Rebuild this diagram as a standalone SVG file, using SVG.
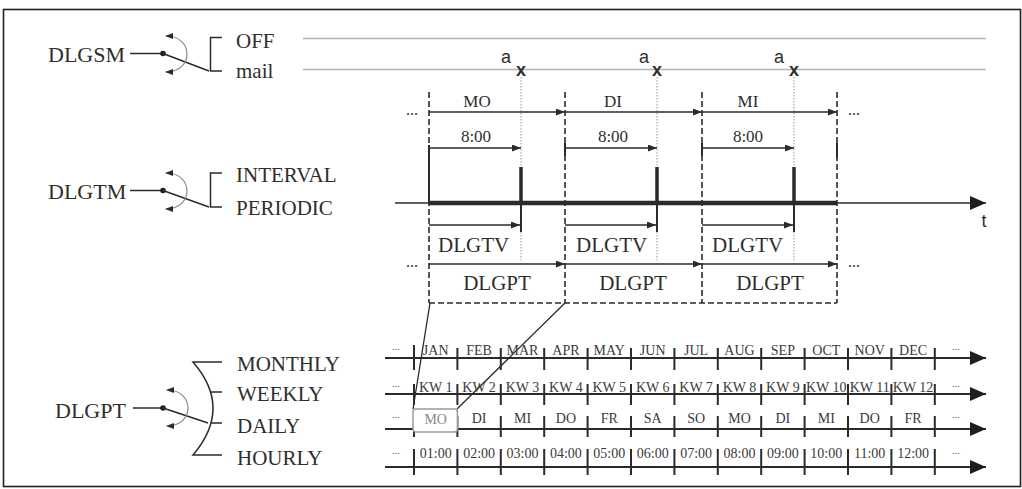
<svg xmlns="http://www.w3.org/2000/svg" width="1022" height="489" viewBox="0 0 1022 489">
<style>
.t{font-family:"Liberation Serif","Times New Roman",serif;fill:#2e2e2e}
.s{font-family:"Liberation Sans",Arial,sans-serif;fill:#2e2e2e}
.big{font-size:22px}
.opt{font-size:21px}
.mid{font-size:17px}
.lab{font-size:21px}
.sm{font-size:14px;fill:#3a3a3a}
.dots{font-size:11px;fill:#666}
.ln{stroke:#2b2b2b;stroke-width:1.5;fill:none}
.thin{stroke:#2b2b2b;stroke-width:1.3;fill:none}
.gray{stroke:#b3b3b3;stroke-width:1.6;fill:none}
.arc{stroke:#8a8a8a;stroke-width:1.2;fill:none}
.dash{stroke:#2b2b2b;stroke-width:1.6;stroke-dasharray:6 3;fill:none}
.dot{stroke:#9a9a9a;stroke-width:1;stroke-dasharray:1.5 1.5;fill:none}
.axis{stroke:#2b2b2b;stroke-width:2;fill:none}
.tick{stroke:#2b2b2b;stroke-width:2}
.xm{font-size:18px;font-weight:bold}
</style>
<defs>
<marker id="ah" markerUnits="userSpaceOnUse" markerWidth="9" markerHeight="7" refX="9" refY="3.5" orient="auto"><path d="M0,0 L9,3.5 L0,7 z" fill="#2b2b2b"/></marker>
<marker id="sa" markerUnits="userSpaceOnUse" markerWidth="8" markerHeight="6" refX="7" refY="3" orient="auto-start-reverse"><path d="M0,0 L8,3 L0,6 z" fill="#2b2b2b"/></marker>
<marker id="bh" markerUnits="userSpaceOnUse" markerWidth="16" markerHeight="14" refX="16" refY="7" orient="auto"><path d="M0,0 L16,7 L0,14 z" fill="#1e1e1e"/></marker>
</defs>
<rect x="3.5" y="9.5" width="1017" height="477" fill="#fff" stroke="#222" stroke-width="1.6"/>

<g id="sw-dlgsm">
<text class="t big" x="48" y="62">DLGSM</text>
<line class="ln" x1="130" y1="53.5" x2="163" y2="53.5"/>
<circle cx="163" cy="53.5" r="2.8" fill="#222"/>
<line class="ln" x1="163" y1="53.5" x2="209" y2="71"/>
<path class="arc" d="M166,36 C194,36 194,72 166,72" marker-start="url(#sa)" marker-end="url(#sa)"/>
<path class="ln" d="M222,37.5 H210.5 V71 H222"/>
<text class="t opt" x="236" y="48">OFF</text>
<text class="t opt" x="236" y="78">mail</text>
</g>

<g id="sw-dlgtm">
<text class="t big" x="48" y="199">DLGTM</text>
<line class="ln" x1="130" y1="190.5" x2="163" y2="190.5"/>
<circle cx="163" cy="190.5" r="2.8" fill="#222"/>
<line class="ln" x1="163" y1="190.5" x2="209" y2="207"/>
<path class="arc" d="M166,173 C194,173 194,209 166,209" marker-start="url(#sa)" marker-end="url(#sa)"/>
<path class="ln" d="M222,173 H210.5 V207 H222"/>
<text class="t opt" x="236" y="182">INTERVAL</text>
<text class="t opt" x="236" y="215">PERIODIC</text>
</g>

<g id="sw-dlgpt">
<text class="t big" x="55" y="418">DLGPT</text>
<line class="ln" x1="133" y1="408" x2="163" y2="408"/>
<circle cx="163" cy="408" r="2.8" fill="#222"/>
<line class="ln" x1="163" y1="408" x2="208" y2="423"/>
<path class="arc" d="M167,390 C195,390 195,426 167,426" marker-start="url(#sa)" marker-end="url(#sa)"/>
<path class="ln" d="M222,362 H193 Q233,408 193,455 H222 M210.5,392 H222 M211,423 H222"/>
<text class="t opt" x="237" y="371">MONTHLY</text>
<text class="t opt" x="237" y="401">WEEKLY</text>
<text class="t opt" x="237" y="433">DAILY</text>
<text class="t opt" x="237" y="465">HOURLY</text>
</g>

<g id="signal-lines">
<line class="gray" x1="303" y1="38.5" x2="986" y2="38.5"/>
<line class="gray" x1="303" y1="69.5" x2="986" y2="69.5"/>
<text class="s" x="506" y="63" font-size="18" text-anchor="middle">a</text>
<text class="s xm" x="521" y="76" text-anchor="middle">x</text>
<text class="s" x="644" y="63" font-size="18" text-anchor="middle">a</text>
<text class="s xm" x="657" y="76" text-anchor="middle">x</text>
<text class="s" x="779" y="63" font-size="18" text-anchor="middle">a</text>
<text class="s xm" x="794" y="76" text-anchor="middle">x</text>
</g>

<g id="connectors">
<path class="dot" d="M521,77 V167 M521,232 V262 M657,77 V167 M657,232 V262 M794,77 V167 M794,232 V262"/>
<path class="dash" d="M429,92 V303 M565,92 V303 M702,92 V303 M837,92 V303 M429,303 H837"/>
<line class="ln" x1="429" y1="112" x2="565" y2="112" marker-end="url(#ah)"/>
<line class="ln" x1="565" y1="112" x2="702" y2="112" marker-end="url(#ah)"/>
<line class="ln" x1="702" y1="112" x2="837" y2="112" marker-end="url(#ah)"/>
<line class="ln" x1="429" y1="148" x2="521" y2="148" marker-end="url(#ah)"/>
<line class="ln" x1="565" y1="148" x2="657" y2="148" marker-end="url(#ah)"/>
<line class="ln" x1="702" y1="148" x2="794" y2="148" marker-end="url(#ah)"/>
<path d="M429,145 V203 M565,143 V156 M702,143 V156 M837,143 V158" stroke="#2b2b2b" stroke-width="2"/>
<line class="ln" x1="395" y1="203" x2="986" y2="203" marker-end="url(#bh)"/>
<line x1="429" y1="203" x2="837" y2="203" stroke="#2b2b2b" stroke-width="4.5"/>
<path d="M521,167 V203 M657,167 V203 M794,167 V203" stroke="#2b2b2b" stroke-width="3.5"/>
<path d="M521,203 V232 M657,203 V232 M794,203 V232" stroke="#2b2b2b" stroke-width="2"/>
<line class="ln" x1="429" y1="225" x2="520" y2="225" marker-end="url(#ah)"/>
<line class="ln" x1="565" y1="225" x2="656" y2="225" marker-end="url(#ah)"/>
<line class="ln" x1="702" y1="225" x2="793" y2="225" marker-end="url(#ah)"/>
<line class="ln" x1="429" y1="264" x2="565" y2="264" marker-end="url(#ah)"/>
<line class="ln" x1="565" y1="264" x2="702" y2="264" marker-end="url(#ah)"/>
<line class="ln" x1="702" y1="264" x2="837" y2="264" marker-end="url(#ah)"/>
<path class="thin" d="M430,303 L413,409 M565,303 L457,409"/>
</g>

<g id="timeline-labels">
<text class="t" x="412" y="115" font-size="16" text-anchor="middle">...</text>
<text class="t" x="854" y="115" font-size="16" text-anchor="middle">...</text>
<text class="t" x="412" y="267" font-size="16" text-anchor="middle">...</text>
<text class="t" x="854" y="267" font-size="16" text-anchor="middle">...</text>
<text class="t mid" x="477" y="107" text-anchor="middle">MO</text>
<text class="t mid" x="613" y="107" text-anchor="middle">DI</text>
<text class="t mid" x="748" y="107" text-anchor="middle">MI</text>
<text class="t mid" x="476" y="142" text-anchor="middle">8:00</text>
<text class="t mid" x="613" y="142" text-anchor="middle">8:00</text>
<text class="t mid" x="748" y="142" text-anchor="middle">8:00</text>
<text class="t lab" x="438" y="252">DLGTV</text>
<text class="t lab" x="576" y="252">DLGTV</text>
<text class="t lab" x="712" y="252">DLGTV</text>
<text class="t lab" x="497" y="290" text-anchor="middle">DLGPT</text>
<text class="t lab" x="633" y="290" text-anchor="middle">DLGPT</text>
<text class="t lab" x="770" y="290" text-anchor="middle">DLGPT</text>
<text class="s" x="984" y="227" font-size="18" text-anchor="middle">t</text>
</g>

<g id="scale-rows">
<g id="row-month">
<line class="axis" x1="385" y1="358" x2="986" y2="358" marker-end="url(#bh)"/>
<path class="tick" d="M414,345V370M457.4,348V370M500.8,348V370M544.2,348V370M587.6,348V370M631,348V370M674.4,348V370M717.8,348V370M761.2,348V370M804.6,348V370M848,348V370M891.4,348V370M934.8,348V370"/>
<g class="t sm" text-anchor="middle">
<text class="t dots" x="396" y="350" text-anchor="middle">...</text>
<text x="435.7" y="355">JAN</text><text x="479.1" y="355">FEB</text><text x="522.5" y="355">MAR</text><text x="565.9" y="355">APR</text><text x="609.3" y="355">MAY</text><text x="652.7" y="355">JUN</text><text x="696.1" y="355">JUL</text><text x="739.5" y="355">AUG</text><text x="782.9" y="355">SEP</text><text x="826.3" y="355">OCT</text><text x="869.7" y="355">NOV</text><text x="913.1" y="355">DEC</text>
<text class="t dots" x="956" y="350" text-anchor="middle">...</text>
</g>
</g>
<g id="row-week">
<line class="axis" x1="385" y1="394" x2="986" y2="394" marker-end="url(#bh)"/>
<path class="tick" d="M414,384V405M457.4,384V405M500.8,384V405M544.2,384V405M587.6,384V405M631,384V405M674.4,384V405M717.8,384V405M761.2,384V405M804.6,384V405M848,384V405M891.4,384V405M934.8,384V405"/>
<g class="t sm" text-anchor="middle">
<text class="t dots" x="396" y="387" text-anchor="middle">...</text>
<text x="435.7" y="392">KW 1</text><text x="479.1" y="392">KW 2</text><text x="522.5" y="392">KW 3</text><text x="565.9" y="392">KW 4</text><text x="609.3" y="392">KW 5</text><text x="652.7" y="392">KW 6</text><text x="696.1" y="392">KW 7</text><text x="739.5" y="392">KW 8</text><text x="782.9" y="392">KW 9</text><text x="826.3" y="392">KW 10</text><text x="869.7" y="392">KW 11</text><text x="913.1" y="392">KW 12</text>
<text class="t dots" x="956" y="387" text-anchor="middle">...</text>
</g>
</g>
<g id="row-day">
<line class="axis" x1="385" y1="429" x2="986" y2="429" marker-end="url(#bh)"/>
<path class="tick" d="M414,416V437M457.4,416V437M500.8,416V437M544.2,416V437M587.6,416V437M631,416V437M674.4,416V437M717.8,416V437M761.2,416V437M804.6,416V437M848,416V437M891.4,416V437M934.8,416V437"/>
<rect x="413" y="409" width="44.4" height="23" rx="3" fill="#fff" stroke="#9a9a9a" stroke-width="1.5"/>
<g class="t sm" text-anchor="middle">
<text class="t dots" x="396" y="418" text-anchor="middle">...</text>
<text x="435.7" y="424" style="fill:#888">MO</text><text x="479.1" y="423">DI</text><text x="522.5" y="423">MI</text><text x="565.9" y="423">DO</text><text x="609.3" y="423">FR</text><text x="652.7" y="423">SA</text><text x="696.1" y="423">SO</text><text x="739.5" y="423">MO</text><text x="782.9" y="423">DI</text><text x="826.3" y="423">MI</text><text x="869.7" y="423">DO</text><text x="913.1" y="423">FR</text>
<text class="t dots" x="956" y="418" text-anchor="middle">...</text>
</g>
</g>
<g id="row-hour">
<line class="axis" x1="385" y1="467" x2="986" y2="467" marker-end="url(#bh)"/>
<path class="tick" d="M414,449V475M457.4,449V475M500.8,449V475M544.2,449V475M587.6,449V475M631,449V475M674.4,449V475M717.8,449V475M761.2,449V475M804.6,449V475M848,449V475M891.4,449V475M934.8,449V475"/>
<g class="t sm" text-anchor="middle">
<text class="t dots" x="396" y="454" text-anchor="middle">...</text>
<text x="435.7" y="458">01:00</text><text x="479.1" y="458">02:00</text><text x="522.5" y="458">03:00</text><text x="565.9" y="458">04:00</text><text x="609.3" y="458">05:00</text><text x="652.7" y="458">06:00</text><text x="696.1" y="458">07:00</text><text x="739.5" y="458">08:00</text><text x="782.9" y="458">09:00</text><text x="826.3" y="458">10:00</text><text x="869.7" y="458">11:00</text><text x="913.1" y="458">12:00</text>
<text class="t dots" x="956" y="454" text-anchor="middle">...</text>
</g>
</g>
</g>
</svg>
